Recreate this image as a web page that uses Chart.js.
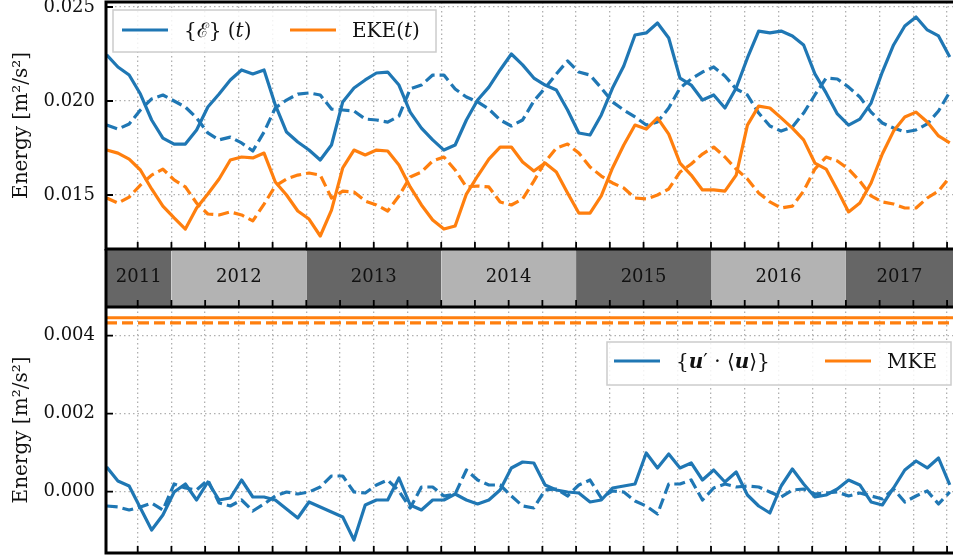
<!DOCTYPE html>
<html lang="en">
<head>
<meta charset="UTF-8">
<title>Energy budget</title>
<script src="https://cdn.jsdelivr.net/npm/chart.js@4.4.0/dist/chart.umd.min.js"></script>
<style>
  body { margin: 0; background: #fff; }
  canvas { position: absolute; left: 0; }
</style>
</head>
<body>
<canvas id="topChart" width="953" height="251" style="top:0px"></canvas>
<canvas id="bandChart" width="953" height="58" style="top:249px"></canvas>
<canvas id="bottomChart" width="953" height="252" style="top:307px"></canvas>
<script>
// time axis in decimal years, one sample per month
const xMin = 2011.515;
const xMax = 2017.794;
const t0 = 2011.52;
const nSamples = 76;
const time = Array.from({length: nSamples}, (_, i) => t0 + i / 12);

// top panel: {E}(t) (solid) and its dashed counterpart
const eTotal = [
  0.02245, 0.02181, 0.02138, 0.02037, 0.01899, 0.01803, 0.01771, 0.01771, 0.01846, 0.01968,
  0.02037, 0.02112, 0.02165, 0.02144, 0.02165, 0.01979, 0.01835, 0.01782, 0.01739, 0.01686,
  0.01766, 0.01995, 0.02069, 0.02112, 0.02149, 0.02154, 0.02085, 0.01941, 0.01856, 0.01793,
  0.01739, 0.01766, 0.01899, 0.02005, 0.02074, 0.02165, 0.02250, 0.02192, 0.02122, 0.02085,
  0.02059, 0.01952, 0.01830, 0.01819, 0.01926, 0.02069, 0.02186, 0.02351, 0.02362, 0.02415,
  0.02335, 0.02122, 0.02085, 0.02005, 0.02032, 0.01963, 0.02069, 0.02229, 0.02372, 0.02362,
  0.02372, 0.02346, 0.02298, 0.02144, 0.02043, 0.01931, 0.01872, 0.01904, 0.01989, 0.02154,
  0.02298, 0.02399, 0.02447, 0.02378, 0.02346, 0.02234
];
const eTotalDash = [
  0.01872, 0.01851, 0.01878, 0.01952, 0.02011, 0.02032, 0.02000, 0.01968, 0.01910, 0.01830,
  0.01793, 0.01808, 0.01777, 0.01734, 0.01835, 0.01963, 0.02005, 0.02037, 0.02043, 0.02032,
  0.01957, 0.01952, 0.01947, 0.01904, 0.01899, 0.01888, 0.01920, 0.02064, 0.02085, 0.02138,
  0.02138, 0.02064, 0.02021, 0.01995, 0.01957, 0.01899, 0.01867, 0.01899, 0.02000, 0.02069,
  0.02144, 0.02213, 0.02154, 0.02138, 0.02069, 0.01995, 0.01952, 0.01915, 0.01872, 0.01888,
  0.01963, 0.02069, 0.02117, 0.02154, 0.02181, 0.02133, 0.02064, 0.02032, 0.01936, 0.01867,
  0.01840, 0.01862, 0.01936, 0.02032, 0.02122, 0.02117, 0.02074, 0.02021, 0.01941, 0.01883,
  0.01856, 0.01835, 0.01846, 0.01878, 0.01947, 0.02048
];
const eke = [
  0.01739, 0.01723, 0.01691, 0.01633, 0.01532, 0.01441, 0.01378, 0.01319, 0.01431, 0.01505,
  0.01585, 0.01686, 0.01702, 0.01697, 0.01723, 0.01569, 0.01500, 0.01415, 0.01372, 0.01282,
  0.01420, 0.01644, 0.01739, 0.01713, 0.01739, 0.01734, 0.01660, 0.01543, 0.01447, 0.01367,
  0.01319, 0.01335, 0.01505, 0.01601, 0.01691, 0.01755, 0.01755, 0.01676, 0.01628, 0.01670,
  0.01622, 0.01511, 0.01404, 0.01404, 0.01495, 0.01644, 0.01766, 0.01872, 0.01851, 0.01910,
  0.01824, 0.01670, 0.01606, 0.01527, 0.01527, 0.01521, 0.01606, 0.01872, 0.01973, 0.01963,
  0.01910, 0.01856, 0.01793, 0.01670, 0.01638, 0.01527, 0.01410, 0.01457, 0.01564, 0.01718,
  0.01840, 0.01915, 0.01941, 0.01888, 0.01814, 0.01777
];
const ekeDash = [
  0.01484, 0.01457, 0.01489, 0.01553, 0.01606, 0.01638, 0.01580, 0.01543, 0.01457, 0.01399,
  0.01394, 0.01410, 0.01394, 0.01362, 0.01452, 0.01548, 0.01585, 0.01606, 0.01617, 0.01606,
  0.01484, 0.01521, 0.01516, 0.01468, 0.01447, 0.01415, 0.01495, 0.01596, 0.01622, 0.01681,
  0.01702, 0.01633, 0.01543, 0.01548, 0.01543, 0.01463, 0.01447, 0.01479, 0.01574, 0.01676,
  0.01750, 0.01771, 0.01723, 0.01649, 0.01601, 0.01564, 0.01537, 0.01484, 0.01479, 0.01500,
  0.01532, 0.01622, 0.01665, 0.01718, 0.01755, 0.01702, 0.01638, 0.01585, 0.01511, 0.01463,
  0.01431, 0.01441, 0.01521, 0.01638, 0.01702, 0.01681, 0.01638, 0.01574, 0.01495, 0.01463,
  0.01452, 0.01431, 0.01431, 0.01484, 0.01521, 0.01596
];

// bottom panel: {u'.<u>} (solid / dashed) and the constant MKE levels
const uMean = [
  0.000633, 0.000274, 0.000146, -0.000418, -0.000982, -0.000597, -0.000008, 0.000197, -0.000213, 0.000249,
  -0.000213, -0.000162, 0.000300, -0.000136, -0.000136, -0.000213, -0.000444, -0.000674, -0.000264, -0.000392,
  -0.000520, -0.000649, -0.001238, -0.000341, -0.000213, -0.000213, 0.000351, -0.000341, -0.000469, -0.000213,
  -0.000213, -0.000059, -0.000213, -0.000315, -0.000213, 0.000044, 0.000608, 0.000762, 0.000736, 0.000172,
  0.000044, -0.000008, -0.000033, -0.000264, -0.000213, 0.000095, 0.000146, 0.000197, 0.000992, 0.000608,
  0.000967, 0.000608, 0.000736, 0.000300, 0.000556, 0.000249, 0.000505, -0.000085, -0.000367, -0.000546,
  0.000146, 0.000582, 0.000197, -0.000136, -0.000085, 0.000069, 0.000300, 0.000172, -0.000264, -0.000341,
  0.000095, 0.000556, 0.000787, 0.000608, 0.000864, 0.000172
];
const uMeanDash = [
  -0.000367, -0.000392, -0.000469, -0.000392, -0.000290, -0.000469, 0.000197, 0.000095, 0.000044, 0.000300,
  -0.000290, -0.000367, -0.000213, -0.000495, -0.000315, -0.000110, -0.000008, -0.000059, -0.000008, 0.000120,
  0.000403, 0.000403, -0.000008, -0.000033, 0.000172, 0.000300, 0.000018, -0.000418, 0.000120, 0.000120,
  -0.000110, -0.000059, 0.000556, 0.000300, 0.000172, 0.000172, -0.000110, -0.000367, -0.000418, 0.000044,
  0.000069, -0.000110, 0.000172, 0.000300, -0.000162, 0.000018, -0.000008, -0.000238, -0.000367, -0.000572,
  0.000197, 0.000197, 0.000300, -0.000213, 0.000095, 0.000197, 0.000120, 0.000146, 0.000120, -0.000008,
  -0.000136, 0.000044, 0.000069, -0.000059, -0.000033, -0.000008, -0.000110, -0.000033, -0.000110, -0.000187,
  0.000069, -0.000264, -0.000110, 0.000018, -0.000315, -0.000008
];
const mke = 0.00446;
const mkeDash = 0.00433;

// axes
const topTicks = [0.015, 0.020, 0.025];
const bottomTicks = [0.000, 0.002, 0.004];
const years = [2011, 2012, 2013, 2014, 2015, 2016, 2017];
const quarterTicks = [];
for (let q = 2011.75; q < xMax; q += 0.25) quarterTicks.push(q);

const BLUE = '#1f77b4';
const ORANGE = '#ff7f0e';
const SERIF = "'DejaVu Serif', serif";
const DASH = [11, 5];

function series(values) {
  return values.map((v, i) => ({x: time[i], y: v}));
}
function line(values, color, dashed) {
  return {
    data: series(values),
    borderColor: color,
    borderWidth: 3.2,
    borderDash: dashed ? DASH : [],
    borderJoinStyle: 'round',
    pointRadius: 0,
    tension: 0,
    fill: false
  };
}

function drawRuns(ctx, runs, x, y) {
  for (const [txt, font] of runs) {
    ctx.font = font;
    ctx.fillText(txt, x, y);
    x += ctx.measureText(txt).width;
  }
}

// frame, inward ticks and legend box, drawn on top of the data
const framePlugin = {
  id: 'frame',
  afterDatasetsDraw(chart, args, opts) {
    const {ctx, chartArea: a, scales} = chart;
    ctx.save();
    ctx.strokeStyle = '#000';
    ctx.lineWidth = 1.8;
    ctx.beginPath();
    for (const q of quarterTicks) {
      const x = scales.x.getPixelForValue(q);
      ctx.moveTo(x, a.bottom);
      ctx.lineTo(x, a.bottom - 7);
    }
    for (const v of (opts.yTicks || [])) {
      const y = scales.y.getPixelForValue(v);
      ctx.moveTo(a.left, y);
      ctx.lineTo(a.left + 7, y);
    }
    ctx.stroke();
    ctx.lineWidth = 3;
    ctx.beginPath();
    ctx.moveTo(a.right + 5, a.top);
    ctx.lineTo(a.left, a.top);
    ctx.lineTo(a.left, a.bottom);
    ctx.lineTo(a.right + 5, a.bottom);
    ctx.stroke();

    const lg = opts.legend;
    if (lg) {
      ctx.fillStyle = 'rgba(255,255,255,0.85)';
      ctx.fillRect(lg.box[0], lg.box[1], lg.box[2], lg.box[3]);
      ctx.strokeStyle = '#cccccc';
      ctx.lineWidth = 1.5;
      ctx.strokeRect(lg.box[0], lg.box[1], lg.box[2], lg.box[3]);
      ctx.textBaseline = 'middle';
      ctx.textAlign = 'left';
      ctx.fillStyle = '#111';
      lg.items.forEach(it => {
        ctx.strokeStyle = it.color;
        ctx.lineWidth = 3.2;
        ctx.setLineDash([]);
        ctx.beginPath();
        ctx.moveTo(it.x, lg.y);
        ctx.lineTo(it.x + 46, lg.y);
        ctx.stroke();
        drawRuns(ctx, it.runs, it.x + 62, lg.y + 2);
      });
    }
    if (opts.years) {
      ctx.fillStyle = '#111';
      ctx.font = '18px ' + SERIF;
      ctx.textAlign = 'center';
      ctx.textBaseline = 'middle';
      years.forEach(yr => {
        const s = Math.max(yr, xMin), e = Math.min(yr + 1, xMax);
        const cx = (scales.x.getPixelForValue(s) + scales.x.getPixelForValue(e)) / 2;
        ctx.fillText(String(yr), cx, (a.top + a.bottom) / 2 - 1);
      });
    }
    ctx.restore();
  }
};

const R = '20px ' + SERIF;
const I = 'italic 20px ' + SERIF;
const BI = 'bold italic 20px ' + SERIF;

function noPad(s) {
  s.paddingTop = 0; s.paddingBottom = 0; s.paddingLeft = 0; s.paddingRight = 0;
}
function xScale() {
  return {
    type: 'linear', min: xMin, max: xMax,
    afterBuildTicks: s => { s.ticks = quarterTicks.map(v => ({value: v})); },
    afterFit: s => { s.height = 0; noPad(s); },
    ticks: {display: false},
    grid: {color: '#b0b0b0', lineWidth: 1.3, drawTicks: false},
    border: {display: false, dash: [1.5, 3]}
  };
}
function yScale(min, max, ticks) {
  return {
    min: min, max: max,
    afterBuildTicks: s => { s.ticks = ticks.map(v => ({value: v})); },
    afterFit: s => { s.width = 106; noPad(s); },
    ticks: {
      color: '#111', padding: 11,
      font: {family: SERIF, size: 18},
      callback: v => v.toFixed(3)
    },
    title: {
      display: true, text: 'Energy [m²/s²]', color: '#111',
      font: {family: SERIF, size: 20}, padding: {top: 10, bottom: 0}
    },
    grid: {color: '#b0b0b0', lineWidth: 1.3, drawTicks: false},
    border: {display: false, dash: [1.5, 3]}
  };
}
const baseOpts = {
  responsive: false,
  animation: false,
  devicePixelRatio: 1,
  events: []
};

new Chart(document.getElementById('topChart'), {
  type: 'line',
  data: {
    datasets: [
      line(ekeDash, ORANGE, true),
      line(eTotalDash, BLUE, true),
      line(eke, ORANGE, false),
      line(eTotal, BLUE, false)
    ].reverse()
  },
  options: Object.assign({}, baseOpts, {
    layout: {autoPadding: false, padding: {top: 2, bottom: 2, left: 0, right: 0}},
    scales: {x: xScale(), y: yScale(0.012128, 0.025266, topTicks)},
    plugins: {
      legend: {display: false}, tooltip: {enabled: false},
      frame: {
        yTicks: topTicks,
        legend: {
          box: [113, 10, 323, 42], y: 30,
          items: [
            {color: BLUE, x: 122, runs: [['{ℰ} (', R], ['t', I], [')', R]]},
            {color: ORANGE, x: 290, runs: [['EKE(', R], ['t', I], [')', R]]}
          ]
        }
      }
    }
  }),
  plugins: [framePlugin]
});

new Chart(document.getElementById('bandChart'), {
  type: 'line',
  data: {
    datasets: years.map((yr, k) => ({
      data: [{x: Math.max(yr, xMin), y: 1}, {x: Math.min(yr + 1, xMax), y: 1}],
      borderWidth: 0,
      pointRadius: 0,
      fill: 'origin',
      backgroundColor: k % 2 === 0 ? '#666666' : '#b3b3b3'
    }))
  },
  options: Object.assign({}, baseOpts, {
    layout: {autoPadding: false, padding: {top: 0, bottom: 0, left: 106, right: 0}},
    scales: {
      x: {type: 'linear', min: xMin, max: xMax, display: false},
      y: {min: 0, max: 1, display: false}
    },
    plugins: {
      legend: {display: false}, tooltip: {enabled: false},
      frame: {years: true}
    }
  }),
  plugins: [framePlugin]
});

new Chart(document.getElementById('bottomChart'), {
  type: 'line',
  data: {
    datasets: [
      line(uMeanDash, BLUE, true),
      line(uMean, BLUE, false),
      Object.assign(line([], ORANGE, true), {data: [{x: xMin, y: mkeDash}, {x: xMax, y: mkeDash}]}),
      Object.assign(line([], ORANGE, false), {data: [{x: xMin, y: mke}, {x: xMax, y: mke}]})
    ].reverse()
  },
  options: Object.assign({}, baseOpts, {
    layout: {autoPadding: false, padding: {top: 0, bottom: 6, left: 0, right: 0}},
    scales: {x: xScale(), y: yScale(-0.001572, 0.004736, bottomTicks)},
    plugins: {
      legend: {display: false}, tooltip: {enabled: false},
      frame: {
        yTicks: bottomTicks,
        legend: {
          box: [607, 35, 344, 43], y: 54,
          items: [
            {color: BLUE, x: 614, runs: [['{', R], ['u', BI], ['′ · ⟨', R], ['u', BI], ['⟩}', R]]},
            {color: ORANGE, x: 825, runs: [['MKE', R]]}
          ]
        }
      }
    }
  }),
  plugins: [framePlugin]
});
</script>
</body>
</html>
